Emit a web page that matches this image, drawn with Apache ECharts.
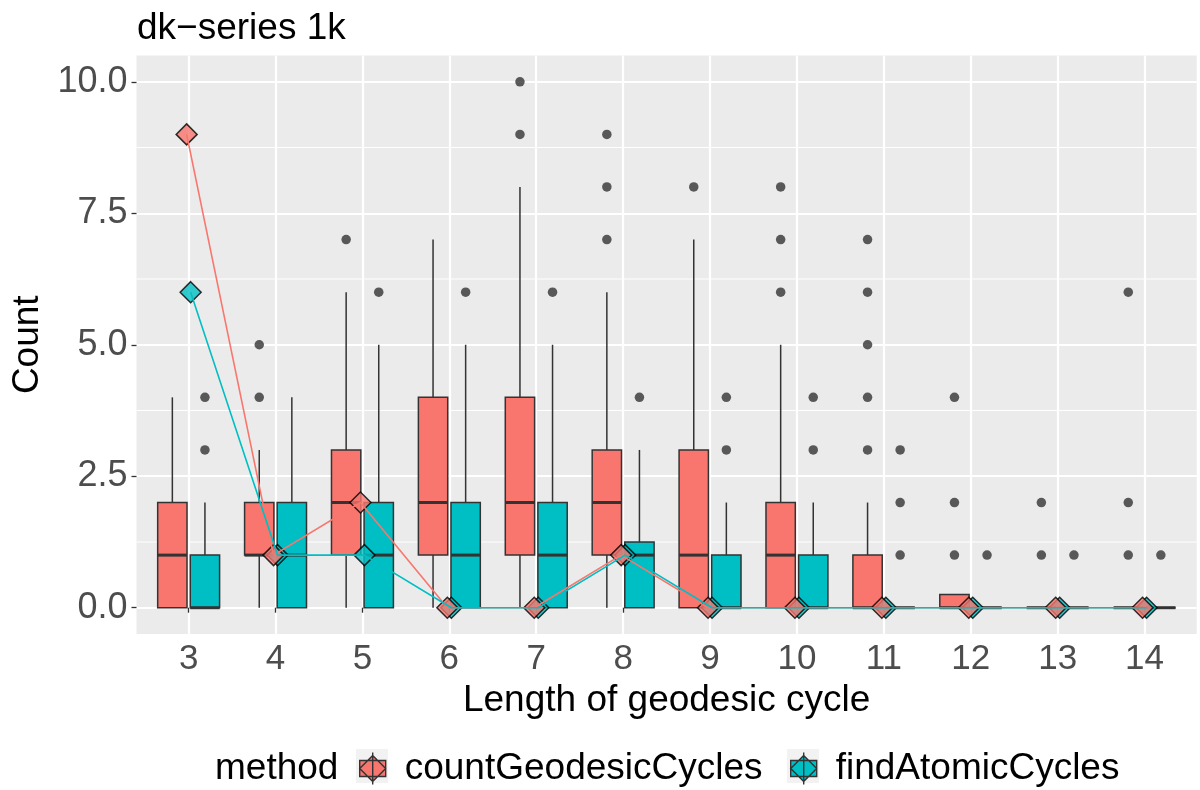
<!DOCTYPE html>
<html><head><meta charset="utf-8">
<script src="https://cdn.jsdelivr.net/npm/echarts@6/dist/echarts.min.js"></script>
<style>html,body{margin:0;padding:0;background:#fff}#c{width:1200px;height:790px}</style>
</head><body><div id="c"></div>
<script>
// ---- data ----
const categories = [3, 4, 5, 6, 7, 8, 9, 10, 11, 12, 13, 14];
const yTickValues = [0, 2.5, 5, 7.5, 10];
const yTickLabels = ['0.0', '2.5', '5.0', '7.5', '10.0'];
const yMinorValues = [1.25, 3.75, 6.25, 8.75];
// box stats: [lower whisker, q1, median, q3, upper whisker]
const countBoxes = [
  [0, 0, 1, 2, 4], [0, 1, 1, 2, 3], [0, 1, 2, 3, 6], [0, 1, 2, 4, 7],
  [0, 1, 2, 4, 8], [0, 1, 2, 3, 6], [0, 0, 1, 3, 7], [0, 0, 1, 2, 5],
  [0, 0, 0, 1, 2], [0, 0, 0, 0.25, 0.25], [0, 0, 0, 0, 0], [0, 0, 0, 0, 0]
];
const findBoxes = [
  [0, 0, 0, 1, 2], [0, 0, 1, 2, 4], [0, 0, 1, 2, 5], [0, 0, 1, 2, 5],
  [0, 0, 1, 2, 5], [0, 0, 1, 1.25, 3], [0, 0, 0, 1, 2], [0, 0, 0, 1, 2],
  [0, 0, 0, 0, 0], [0, 0, 0, 0, 0], [0, 0, 0, 0, 0], [0, 0, 0, 0, 0]
];
const countOutliers = [[], [4, 5], [7], [], [9, 10], [7, 8, 9], [8], [6, 7, 8], [3, 4, 5, 6, 7], [1, 2, 4], [1, 2], [1, 2, 6]];
const findOutliers = [[3, 4], [], [6], [6], [6], [4], [3, 4], [3, 4], [1, 2, 3], [1], [1], [1]];
const countTotals = [9, 1, 2, 0, 0, 1, 0, 0, 0, 0, 0, 0];
const findTotals = [6, 1, 1, 0, 0, 1, 0, 0, 0, 0, 0, 0];
const methods = ['countGeodesicCycles', 'findAtomicCycles'];

// ---- style constants ----
const RED = '#F8766D', TEAL = '#00BFC4';
const FONT = 'Liberation Sans, Arial, Helvetica, sans-serif';
const DODGE = 0.1875, BOX_W = 0.3375, PT_DODGE = 0.023;
const LW = 1.5;

function boxRender(offset) {
  return function (params, api) {
    const x = api.value(0) + offset;
    const lo = api.coord([x, api.value(1)]);
    const q1 = api.coord([x, api.value(2)]);
    const md = api.coord([x, api.value(3)]);
    const q3 = api.coord([x, api.value(4)]);
    const hi = api.coord([x, api.value(5)]);
    const hw = api.size([BOX_W, 0])[0] / 2;
    const color = api.visual('color');
    return {
      type: 'group', children: [
        { type: 'line', shape: { x1: lo[0], y1: lo[1], x2: q1[0], y2: q1[1] }, style: { stroke: '#333', lineWidth: LW } },
        { type: 'line', shape: { x1: q3[0], y1: q3[1], x2: hi[0], y2: hi[1] }, style: { stroke: '#333', lineWidth: LW } },
        { type: 'rect', shape: { x: q3[0] - hw, y: q3[1], width: 2 * hw, height: q1[1] - q3[1] }, style: { fill: color, stroke: '#333', lineWidth: LW } },
        { type: 'line', shape: { x1: md[0] - hw, y1: md[1], x2: md[0] + hw, y2: md[1] }, style: { stroke: '#333', lineWidth: 3 } }
      ]
    };
  };
}

const boxData = b => b.map((s, i) => [categories[i]].concat(s));
const outData = (o, off) => o.flatMap((arr, i) => arr.map(v => [categories[i] + off, v]));
const ptData = (t, off) => t.map((v, i) => [categories[i] + off, v]);

const legendIcon = 'path://M13,0L13,32M0,8L26,8L26,24L0,24ZM13,3L26,16L13,29L0,16Z';

const option = {
  backgroundColor: '#fff',
  animation: false,
  textStyle: { fontFamily: FONT },
  title: [
    { text: 'dk\u2212series 1k', left: 137, top: 10, padding: 0, textStyle: { fontSize: 37, fontWeight: 'normal', color: '#000', fontFamily: FONT } },
    { text: 'method', left: 215, top: 750, padding: 0, textStyle: { fontSize: 37, fontWeight: 'normal', color: '#000', fontFamily: FONT } }
  ],
  graphic: [
    { type: 'rect', left: 356, top: 749, shape: { width: 32, height: 34 }, style: { fill: '#F2F2F2' }, z: 0 },
    { type: 'rect', left: 787, top: 749, shape: { width: 32, height: 34 }, style: { fill: '#F2F2F2' }, z: 0 }
  ],
  legend: [
    {
      left: 359, top: 750, itemWidth: 26, itemHeight: 32, padding: 0, z: 5,
      data: [{ name: methods[0], icon: legendIcon, itemStyle: { color: RED, borderColor: '#333', borderWidth: 1.4 } }],
      textStyle: { fontSize: 37, color: '#000', fontFamily: FONT, padding: [0, 0, 0, 14] }
    },
    {
      left: 790, top: 750, itemWidth: 26, itemHeight: 32, padding: 0, z: 5,
      data: [{ name: methods[1], icon: legendIcon, itemStyle: { color: TEAL, borderColor: '#333', borderWidth: 1.4 } }],
      textStyle: { fontSize: 37, color: '#000', fontFamily: FONT, padding: [0, 0, 0, 14] }
    }
  ],
  grid: {
    left: 136.5, right: 3.3, top: 55.5, bottom: 156,
    show: true, backgroundColor: '#EBEBEB', borderWidth: 0
  },
  xAxis: {
    type: 'value', min: 2.4, max: 14.6,
    name: 'Length of geodesic cycle', nameLocation: 'middle', nameGap: 43,
    nameTextStyle: { fontSize: 37, color: '#000', fontFamily: FONT },
    axisLine: { show: false },
    axisTick: { show: true, length: 5, lineStyle: { color: '#333', width: 1.3 }, customValues: categories },
    axisLabel: { customValues: categories, fontSize: 35, color: '#4D4D4D', margin: 8, fontFamily: FONT, formatter: v => String(v) },
    splitLine: { show: true, lineStyle: { color: '#fff', width: 2.2 } }
  },
  yAxis: {
    type: 'value', min: -0.5, max: 10.5,
    name: 'Count', nameLocation: 'middle', nameGap: 90, nameRotate: 90,
    nameTextStyle: { fontSize: 37, color: '#000', fontFamily: FONT },
    axisLine: { show: false },
    axisTick: { show: true, length: 5, lineStyle: { color: '#333', width: 1.3 }, customValues: yTickValues },
    axisLabel: { customValues: yTickValues, fontSize: 36, color: '#4D4D4D', margin: 9, fontFamily: FONT,
      formatter: v => yTickLabels[yTickValues.indexOf(v)] },
    splitLine: { show: true, lineStyle: { color: '#fff', width: 2.2 } }
  },
  series: [
    {
      type: 'custom', name: 'minorGrid', silent: true, z: 1,
      data: yMinorValues.map(v => [v]),
      encode: { y: 0 },
      renderItem: function (params, api) {
        const cs = params.coordSys;
        const y = api.coord([2.4, api.value(0)])[1];
        return { type: 'line', shape: { x1: cs.x, y1: y, x2: cs.x + cs.width, y2: y }, style: { stroke: '#fff', lineWidth: 1.1 } };
      }
    },
    {
      type: 'custom', name: methods[0], z: 2, itemStyle: { color: RED },
      data: boxData(countBoxes), encode: { x: 0, y: [1, 2, 3, 4, 5] },
      renderItem: boxRender(-DODGE)
    },
    {
      type: 'custom', name: methods[1], z: 2, itemStyle: { color: TEAL },
      data: boxData(findBoxes), encode: { x: 0, y: [1, 2, 3, 4, 5] },
      renderItem: boxRender(DODGE)
    },
    {
      type: 'scatter', name: methods[0], z: 3, symbol: 'circle', symbolSize: 9.5,
      itemStyle: { color: '#333' }, data: outData(countOutliers, -DODGE)
    },
    {
      type: 'scatter', name: methods[1], z: 3, symbol: 'circle', symbolSize: 9.5,
      itemStyle: { color: '#333' }, data: outData(findOutliers, DODGE)
    },
    {
      type: 'scatter', name: methods[1], z: 4, symbol: 'diamond', symbolSize: 21,
      itemStyle: { color: TEAL, borderColor: '#000', borderWidth: 1.5 }, data: ptData(findTotals, PT_DODGE)
    },
    {
      type: 'scatter', name: methods[0], z: 5, symbol: 'diamond', symbolSize: 21,
      itemStyle: { color: RED, borderColor: '#000', borderWidth: 1.5 }, data: ptData(countTotals, -PT_DODGE)
    },
    {
      type: 'line', name: methods[0], z: 6, symbol: 'none',
      lineStyle: { color: RED, width: 1.6 }, itemStyle: { color: RED }, data: ptData(countTotals, -PT_DODGE)
    },
    {
      type: 'line', name: methods[1], z: 7, symbol: 'none',
      lineStyle: { color: TEAL, width: 1.6 }, itemStyle: { color: TEAL }, data: ptData(findTotals, PT_DODGE)
    }
  ]
};

const chart = echarts.init(document.getElementById('c'), null, { renderer: 'canvas' });
chart.setOption(option);
</script>
</body></html>
